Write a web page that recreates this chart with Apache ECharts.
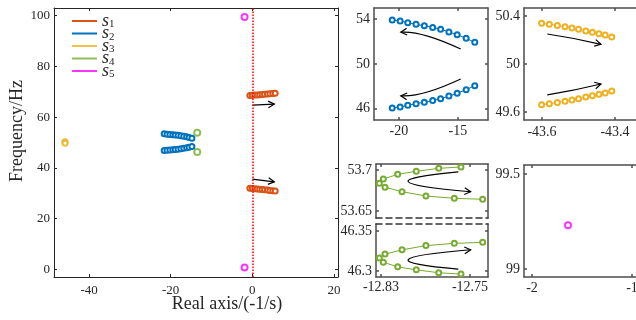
<!DOCTYPE html>
<html>
<head>
<meta charset="utf-8">
<script src="https://cdn.jsdelivr.net/npm/echarts@6/dist/echarts.min.js"></script>
<style>
html, body { margin: 0; padding: 0; background: #fff; }
#chart { width: 636px; height: 320px; }
</style>
</head>
<body>
<div id="chart"></div>
<script>
// ---- overview panel, values ----
const mainS1X = [-0.6, 0.0, 0.6, 1.2, 1.8, 2.4, 3.0, 3.7, 4.3, 5.0, 5.6];
const mainS1Up = [68.5, 68.6, 68.7, 68.75, 68.85, 68.95, 69.0, 69.1, 69.2, 69.3, 69.4];
const mainS1Low = [32.0, 31.9, 31.8, 31.7, 31.6, 31.45, 31.35, 31.25, 31.1, 31.0, 30.9];
const mainS2X = [-21.6, -20.9, -20.2, -19.5, -18.9, -18.2, -17.5, -16.8, -16.1, -15.5, -14.8];
const mainS2Up = [53.4, 53.3, 53.2, 53.1, 53.0, 52.85, 52.7, 52.5, 52.3, 52.0, 51.7];
const mainS2Low = [46.8, 46.9, 47.0, 47.1, 47.2, 47.35, 47.5, 47.7, 47.9, 48.15, 48.4];
const mainS3 = [[-45.9, 50.3], [-45.9, 50.0], [-45.9, 49.7]];
const mainS4 = [[-13.5, 53.8], [-13.5, 46.3]];
const mainS5 = [[-1.9, 99.5], [-1.9, 0.7]];

// ---- zoomed panels ----
const s2X = [-20.56, -19.89, -19.24, -18.54, -17.84, -17.13, -16.46, -15.76, -15.06, -14.30, -13.57];
const s2Up = [53.93, 53.84, 53.69, 53.54, 53.42, 53.27, 53.10, 52.86, 52.62, 52.29, 51.94];
const s2Low = [46.07, 46.16, 46.31, 46.46, 46.58, 46.73, 46.90, 47.14, 47.38, 47.71, 48.06];

const s3X = [-43.601, -43.580, -43.558, -43.537, -43.518, -43.500, -43.480, -43.462, -43.444, -43.427, -43.409];
const s3Up = [50.339, 50.331, 50.322, 50.311, 50.300, 50.289, 50.275, 50.264, 50.253, 50.242, 50.225];
const s3Low = [49.661, 49.669, 49.678, 49.689, 49.700, 49.711, 49.725, 49.736, 49.747, 49.758, 49.775];

const s4X = [-12.7581, -12.7781, -12.7983, -12.8150, -12.8279, -12.8315, -12.8264, -12.8111, -12.7896, -12.7641, -12.7386];
const s4Up = [53.7037, 53.7020, 53.6984, 53.6947, 53.6890, 53.6837, 53.6789, 53.6736, 53.6683, 53.6655, 53.6643];
const s4Low = [46.2963, 46.2980, 46.3016, 46.3053, 46.3110, 46.3163, 46.3211, 46.3264, 46.3317, 46.3345, 46.3357];

const s5Zoom = [[-1.64, 99.23]];

// tick labels
const mainXTicks = [-40, -20, 0, 20];
const mainYTicks = [0, 20, 40, 60, 80, 100];
const s2XTicks = [-20, -15];
const s2YTicks = [46, 50, 54];
const s3XTicks = [-43.6, -43.4];
const s3YTicks = [49.6, 50, 50.4];
const s4XTicks = [-12.83, -12.75];
const s4UpTicks = [53.65, 53.7];
const s4LowTicks = [46.3, 46.35];
const s5XTicks = [-2, -1];
const s5YTicks = [99, 99.5];

// arrows (data coords): [tail, (bend), head]
const arrows = [
  [0, [[0, 64.7], [5.4, 65.1]]],
  [0, [[0, 35.6], [5.4, 34.5]]],
  [1, [[-14.76, 51.34], [-17.7, 52.54], [-19.83, 52.84]]],
  [1, [[-14.76, 48.66], [-17.7, 47.46], [-19.83, 47.16]]],
  [2, [[-43.5855, 50.25], [-43.512, 50.212], [-43.4384, 50.164]]],
  [2, [[-43.5855, 49.742], [-43.512, 49.783], [-43.4384, 49.833]]],
  [3, [[-12.7605, 53.6976], [-12.8055, 53.6857], [-12.7494, 53.6735]]],
  [4, [[-12.7605, 46.3024], [-12.8055, 46.3143], [-12.7494, 46.3265]]]
];

const C = { s1: '#D95319', s2: '#0072BD', s3: '#EDB120', s4: '#77AC30', s5: '#FF00FF' };
const FONT = 'Liberation Serif';
const INK = '#262626';

const grids = [], xAxes = [], yAxes = [];

function panel(box, xr, yr, xt, yt, o) {
  const g = grids.length;
  grids.push({ left: box[0], top: box[1], width: box[2], height: box[3], outerBoundsMode: 'none', containLabel: false });
  const line = { color: o.color, width: o.lw };
  const lab = { color: INK, fontFamily: FONT, fontSize: o.fs };
  const tick = (vals) => ({ inside: true, length: 3, customValues: vals, lineStyle: line });
  const dash = { color: '#333', width: 1.5, type: [6, 4] };
  const base = { gridIndex: g, type: 'value', splitLine: { show: false }, axisLine: { onZero: false, lineStyle: line } };
  xAxes.push(Object.assign({}, base, {
    position: 'bottom', min: xr[0], max: xr[1],
    axisLine: { onZero: false, lineStyle: o.dashBottom ? dash : line },
    axisTick: o.dashBottom ? { show: false } : tick(xt),
    axisLabel: { show: !o.noXLabel, customValues: xt, margin: o.xm, ...lab }
  }));
  xAxes.push(Object.assign({}, base, {
    position: 'top', min: xr[0], max: xr[1],
    axisLine: { onZero: false, lineStyle: o.dashTop ? dash : line },
    axisTick: o.dashTop ? { show: false } : tick(xt),
    axisLabel: { show: false }
  }));
  yAxes.push(Object.assign({}, base, {
    position: 'left', min: yr[0], max: yr[1],
    axisTick: tick(yt),
    axisLabel: { customValues: yt, margin: 4, ...lab }
  }));
  yAxes.push(Object.assign({}, base, {
    position: 'right', min: yr[0], max: yr[1],
    axisTick: tick(yt), axisLabel: { show: false }
  }));
  return g;
}

const small = { color: '#4d4d4d', lw: 1.5, fs: 14 };
panel([54, 8, 284, 269], [-48.6, 21], [-3, 103], mainXTicks, mainYTicks, { color: INK, lw: 1, fs: 13, xm: 7 });
panel([374, 8, 114, 112], [-22.1, -12.45], [45, 55], s2XTicks, s2YTicks, { ...small, xm: 4 });
panel([524, 8, 130, 112], [-43.6493, -43.2932], [49.533, 50.467], s3XTicks, s3YTicks, { ...small, xm: 5 });
panel([376, 164, 112, 54], [-12.8345, -12.7338], [53.6415, 53.7073], s4XTicks, s4UpTicks, { ...small, xm: 3, noXLabel: true, dashBottom: true });
panel([376, 224, 112, 53], [-12.8345, -12.7338], [46.2927, 46.3585], s4XTicks, s4LowTicks, { ...small, xm: 3, dashTop: true });
panel([524, 165, 130, 112], [-2.08, -0.78], [98.958, 99.547], s5XTicks, s5YTicks, { ...small, xm: 4 });

const zip = (xs, ys) => xs.map((x, i) => [x, ys[i]]);

function trace(name, g, data, size, bw, lineW) {
  return {
    name, type: 'line', xAxisIndex: 2 * g, yAxisIndex: 2 * g, data,
    symbol: 'emptyCircle', symbolSize: size, showSymbol: true,
    itemStyle: { color: C[name], borderWidth: bw },
    lineStyle: { color: C[name], width: lineW },
    animation: false, silent: true, clip: true
  };
}
function dots(name, g, data, size, bw) {
  return {
    name, type: 'scatter', xAxisIndex: 2 * g, yAxisIndex: 2 * g, data,
    symbol: 'emptyCircle', symbolSize: size,
    itemStyle: { color: C[name], borderColor: C[name], borderWidth: bw },
    animation: false, silent: true
  };
}

const s1Up = trace('s1', 0, zip(mainS1X, mainS1Up), 5, 1.2, 1);
s1Up.markLine = {
  silent: true, symbol: 'none', label: { show: false },
  lineStyle: { color: '#FF0000', type: 'dotted', width: 1.5 },
  data: [{ xAxis: 0 }]
};

const series = [
  s1Up,
  trace('s1', 0, zip(mainS1X, mainS1Low), 5, 1.2, 1),
  trace('s2', 0, zip(mainS2X, mainS2Up), 5, 1.2, 1),
  trace('s2', 0, zip(mainS2X, mainS2Low), 5, 1.2, 1),
  dots('s3', 0, mainS3, 5, 2.5),
  dots('s4', 0, mainS4, 6, 2.5),
  dots('s5', 0, mainS5, 6, 2),
  trace('s2', 1, zip(s2X, s2Up), 5, 1, 1),
  trace('s2', 1, zip(s2X, s2Low), 5, 1, 1),
  trace('s3', 2, zip(s3X, s3Up), 5, 1, 1),
  trace('s3', 2, zip(s3X, s3Low), 5, 1, 1),
  trace('s4', 3, zip(s4X, s4Up), 5, 1, 1),
  trace('s4', 4, zip(s4X, s4Low), 5, 1, 1),
  dots('s5', 5, s5Zoom, 6, 2)
];

const chart = echarts.init(document.getElementById('chart'), null, { renderer: 'canvas' });
chart.setOption({
  backgroundColor: '#fff',
  animation: false,
  grid: grids,
  xAxis: xAxes,
  yAxis: yAxes,
  legend: {
    orient: 'vertical', left: 72, top: 12, padding: 0,
    itemWidth: 25, itemHeight: 2, itemGap: -5.5, icon: 'rect',
    itemStyle: { borderWidth: 0 },
    data: ['s1', 's2', 's3', 's4', 's5'],
    formatter: (n) => '{i|s}{n|' + n.slice(1) + '}',
    textStyle: {
      color: INK, lineHeight: 12.5,
      rich: {
        i: { fontFamily: FONT, fontStyle: 'italic', fontSize: 18, lineHeight: 12.5, color: INK },
        n: { fontFamily: FONT, fontSize: 11, lineHeight: 12.5, padding: [7, 0, 0, 0], color: INK }
      }
    }
  },
  series
});

// axis titles and arrow annotations
const graphic = [
  { type: 'text', x: 17, y: 131, rotation: Math.PI / 2,
    style: { text: 'Frequency/Hz', font: '18px "Liberation Serif"', fill: INK, align: 'center', verticalAlign: 'middle' } },
  { type: 'text', x: 227, y: 304,
    style: { text: 'Real axis/(-1/s)', font: '18px "Liberation Serif"', fill: INK, align: 'center', verticalAlign: 'middle' } }
];
arrows.forEach(([g, pts]) => {
  const p = pts.map((d) => chart.convertToPixel({ xAxisIndex: 2 * g, yAxisIndex: 2 * g }, d));
  const end = p[p.length - 1];
  let from;
  if (p.length === 2) {
    graphic.push({ type: 'line', shape: { x1: p[0][0], y1: p[0][1], x2: end[0], y2: end[1] },
      style: { stroke: '#000', lineWidth: 1.2 }, silent: true });
    from = p[0];
  } else {
    const c = [2 * p[1][0] - (p[0][0] + end[0]) / 2, 2 * p[1][1] - (p[0][1] + end[1]) / 2];
    graphic.push({ type: 'bezierCurve',
      shape: { x1: p[0][0], y1: p[0][1], x2: end[0], y2: end[1], cpx1: c[0], cpy1: c[1] },
      style: { stroke: '#000', lineWidth: 1.2, fill: 'none' }, silent: true });
    from = c;
  }
  const a = Math.atan2(end[1] - from[1], end[0] - from[0]);
  const L = 7, w = 0.5;
  graphic.push({ type: 'polyline',
    shape: { points: [
      [end[0] - L * Math.cos(a - w), end[1] - L * Math.sin(a - w)],
      end,
      [end[0] - L * Math.cos(a + w), end[1] - L * Math.sin(a + w)]
    ] },
    style: { stroke: '#000', lineWidth: 1.2, fill: 'none' }, silent: true });
});
chart.setOption({ graphic });
</script>
</body>
</html>
